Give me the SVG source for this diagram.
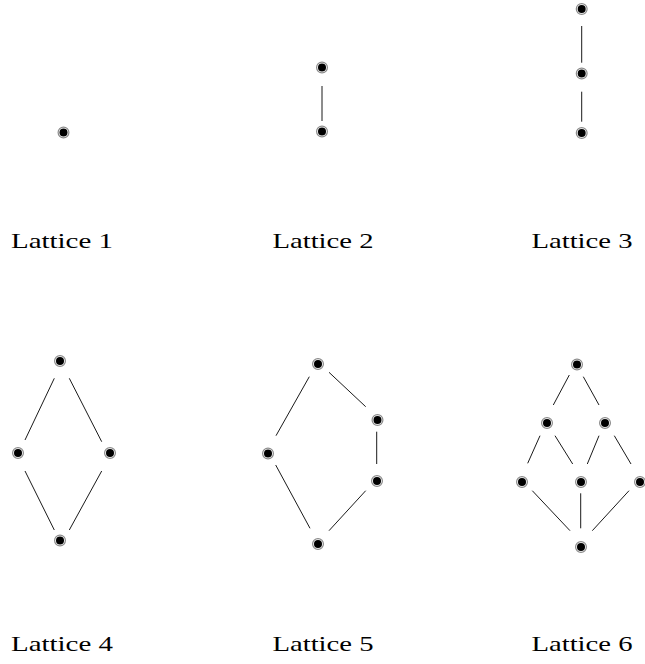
<svg xmlns="http://www.w3.org/2000/svg" width="645" height="664" viewBox="0 0 645 664">
<defs>
<style>
.e{stroke:#1a1a1a;stroke-width:1;fill:none}
.lbl{font-family:"Liberation Serif","DejaVu Serif",serif;font-size:22px;fill:#000;text-anchor:middle}
</style>
<g id="nd">
<circle r="5.4" fill="#fff" stroke="#8a8a8a" stroke-width="1.2"/>
<circle r="4" fill="#000"/>
</g>
</defs>
<rect width="645" height="664" fill="#fff"/>
<g id="connectors">
<line class="e" x1="322" y1="86" x2="322" y2="121"/>
<line class="e" x1="581.7" y1="26" x2="581.7" y2="62.7"/>
<line class="e" x1="581.7" y1="91.7" x2="581.7" y2="121.7"/>
<line class="e" x1="54.3" y1="378.3" x2="25" y2="440"/>
<line class="e" x1="69.3" y1="378.3" x2="101.7" y2="441.7"/>
<line class="e" x1="25" y1="471" x2="54.3" y2="530"/>
<line class="e" x1="101.7" y1="471" x2="69.3" y2="530"/>
<line class="e" x1="309.3" y1="376.7" x2="276" y2="435.7"/>
<line class="e" x1="329" y1="372.3" x2="365.7" y2="406.7"/>
<line class="e" x1="376.7" y1="431.7" x2="376.7" y2="464"/>
<line class="e" x1="275.7" y1="465" x2="310" y2="528.3"/>
<line class="e" x1="365.7" y1="490.7" x2="329" y2="530.7"/>
<line class="e" x1="569.3" y1="375" x2="553.3" y2="405"/>
<line class="e" x1="583.3" y1="376.7" x2="599" y2="405"/>
<line class="e" x1="540" y1="435.7" x2="527.7" y2="463.3"/>
<line class="e" x1="555" y1="435.7" x2="572.7" y2="464"/>
<line class="e" x1="599" y1="435.7" x2="587.3" y2="464"/>
<line class="e" x1="614.3" y1="435.7" x2="631" y2="464"/>
<line class="e" x1="532.3" y1="490.7" x2="570" y2="530.7"/>
<line class="e" x1="580.7" y1="493.3" x2="580.7" y2="528.3"/>
<line class="e" x1="629" y1="490.7" x2="592.3" y2="530.7"/>
</g>
<g id="lattice1">
<use href="#nd" x="63.5" y="132.5"/>
<text class="lbl" x="62" y="248" textLength="102" lengthAdjust="spacingAndGlyphs">Lattice 1</text>
</g>
<g id="lattice2">
<use href="#nd" x="322" y="67.5"/>
<use href="#nd" x="322" y="131.5"/>
<text class="lbl" x="323" y="248" textLength="101" lengthAdjust="spacingAndGlyphs">Lattice 2</text>
</g>
<g id="lattice3">
<use href="#nd" x="581.7" y="9"/>
<use href="#nd" x="581.7" y="73.5"/>
<use href="#nd" x="581.7" y="133"/>
<text class="lbl" x="582" y="248" textLength="101" lengthAdjust="spacingAndGlyphs">Lattice 3</text>
</g>
<g id="lattice4">
<use href="#nd" x="60" y="361"/>
<use href="#nd" x="18" y="453"/>
<use href="#nd" x="110" y="453"/>
<use href="#nd" x="60" y="540.5"/>
<text class="lbl" x="62" y="651" textLength="102" lengthAdjust="spacingAndGlyphs">Lattice 4</text>
</g>
<g id="lattice5">
<use href="#nd" x="318" y="364"/>
<use href="#nd" x="268" y="453.5"/>
<use href="#nd" x="377.5" y="420"/>
<use href="#nd" x="377" y="481"/>
<use href="#nd" x="318" y="544"/>
<text class="lbl" x="323" y="651" textLength="101" lengthAdjust="spacingAndGlyphs">Lattice 5</text>
</g>
<g id="lattice6">
<use href="#nd" x="577" y="364.5"/>
<use href="#nd" x="547" y="423"/>
<use href="#nd" x="605" y="423"/>
<use href="#nd" x="522" y="482"/>
<use href="#nd" x="581" y="482"/>
<use href="#nd" x="640" y="482"/>
<use href="#nd" x="581" y="547"/>
<text class="lbl" x="582" y="651" textLength="101" lengthAdjust="spacingAndGlyphs">Lattice 6</text>
</g>
</svg>
